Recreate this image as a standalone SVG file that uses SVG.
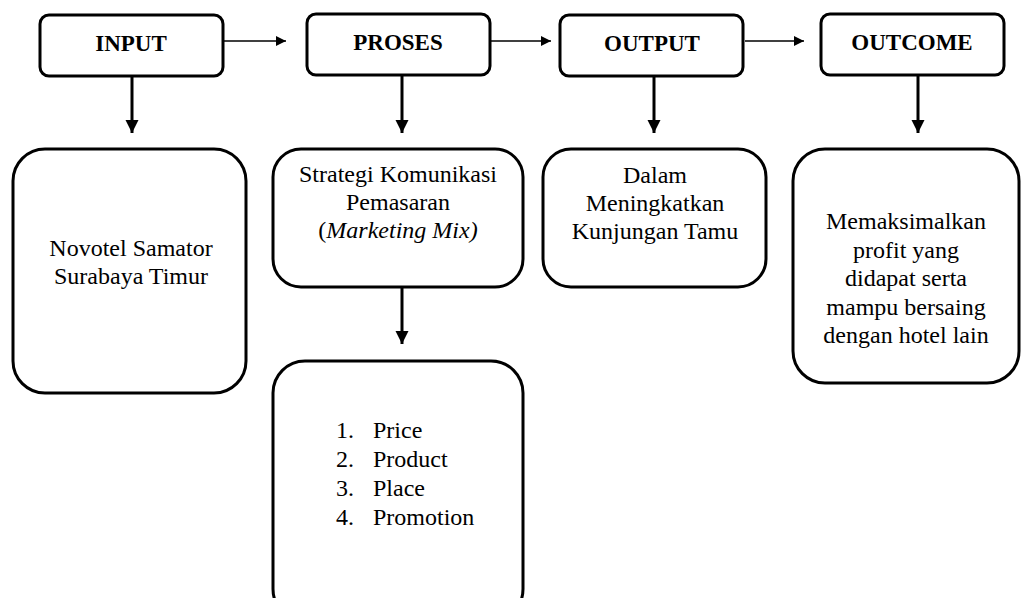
<svg xmlns="http://www.w3.org/2000/svg" width="1021" height="598" viewBox="0 0 1021 598">
<style>
.box{fill:#fff;stroke:#000;stroke-width:3}
.hd{font-family:"Liberation Serif","Times New Roman",serif;font-weight:bold;font-size:23px;text-anchor:middle;fill:#000}
.tx{font-family:"Liberation Serif","Times New Roman",serif;font-size:24px;text-anchor:middle;fill:#000}
.ls{font-family:"Liberation Serif","Times New Roman",serif;font-size:24px;fill:#000}
.h{stroke:#000;stroke-width:1.5;fill:none}
.v{stroke:#000;stroke-width:3;fill:none}
</style>
<defs>
<marker id="ah" viewBox="0 0 10 10" refX="10" refY="5" markerWidth="11" markerHeight="10" markerUnits="userSpaceOnUse" orient="auto"><path d="M0,0 L10,5 L0,10 z" fill="#000"/></marker>
<marker id="av" viewBox="0 0 10 10" refX="10" refY="5" markerWidth="4.5" markerHeight="4.5" orient="auto"><path d="M0,0 L10,5 L0,10 z" fill="#000"/></marker>
</defs>
<g id="connectors">
<line class="h" x1="224" y1="41" x2="286" y2="41" marker-end="url(#ah)"/>
<line class="h" x1="491" y1="41" x2="551" y2="41" marker-end="url(#ah)"/>
<line class="h" x1="745" y1="41" x2="804" y2="41" marker-end="url(#ah)"/>
<line class="v" x1="132" y1="76" x2="132" y2="133" marker-end="url(#av)"/>
<line class="v" x1="402" y1="75" x2="402" y2="133" marker-end="url(#av)"/>
<line class="v" x1="654" y1="76" x2="654" y2="133" marker-end="url(#av)"/>
<line class="v" x1="918" y1="75" x2="918" y2="133" marker-end="url(#av)"/>
<line class="v" x1="402" y1="287" x2="402" y2="344" marker-end="url(#av)"/>
</g>
<g id="input"><rect class="box" x="40" y="15" width="183" height="61" rx="9"/><text class="hd" x="131" y="51">INPUT</text></g>
<g id="proses"><rect class="box" x="307" y="14" width="183" height="61" rx="9"/><text class="hd" x="398" y="50">PROSES</text></g>
<g id="output"><rect class="box" x="560" y="15" width="183" height="61" rx="9"/><text class="hd" x="652" y="51">OUTPUT</text></g>
<g id="outcome"><rect class="box" x="821" y="14" width="183" height="61" rx="9"/><text class="hd" x="912" y="50">OUTCOME</text></g>
<g id="novotel"><rect class="box" x="13" y="149" width="233" height="244" rx="32"/>
<text class="tx" x="131" y="256">Novotel Samator</text><text class="tx" x="131" y="284">Surabaya Timur</text></g>
<g id="strategi"><rect class="box" x="273" y="149" width="250" height="138" rx="28"/>
<text class="tx" x="398" y="182">Strategi Komunikasi</text><text class="tx" x="398" y="210">Pemasaran</text>
<text class="tx" x="398" y="238">(<tspan font-style="italic">Marketing Mix)</tspan></text></g>
<g id="dalam"><rect class="box" x="543" y="149" width="223" height="138" rx="28"/>
<text class="tx" x="655" y="183">Dalam</text><text class="tx" x="655" y="211">Meningkatkan</text><text class="tx" x="655" y="239">Kunjungan Tamu</text></g>
<g id="memaksimalkan"><rect class="box" x="793" y="149" width="226" height="234" rx="32"/>
<text class="tx" x="906" y="229">Memaksimalkan</text><text class="tx" x="906" y="258">profit yang</text><text class="tx" x="906" y="286">didapat serta</text><text class="tx" x="906" y="315">mampu bersaing</text><text class="tx" x="906" y="343">dengan hotel lain</text></g>
<g id="list"><rect class="box" x="273" y="361" width="250" height="260" rx="32"/>
<text class="ls" x="336" y="438">1.</text><text class="ls" x="373" y="438">Price</text>
<text class="ls" x="336" y="467">2.</text><text class="ls" x="373" y="467">Product</text>
<text class="ls" x="336" y="496">3.</text><text class="ls" x="373" y="496">Place</text>
<text class="ls" x="336" y="525">4.</text><text class="ls" x="373" y="525">Promotion</text></g>
</svg>
